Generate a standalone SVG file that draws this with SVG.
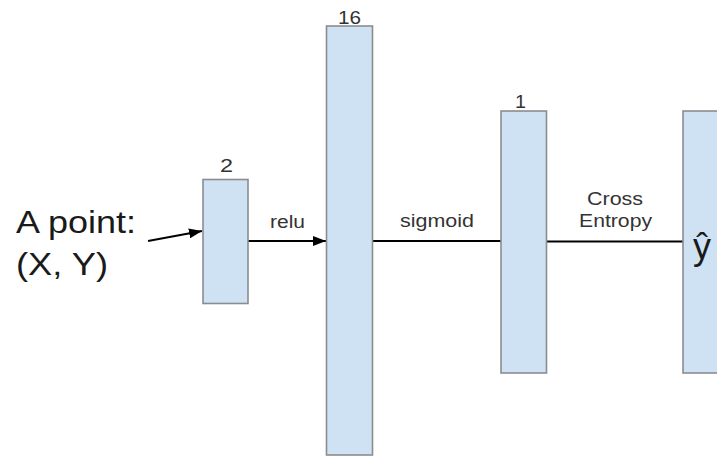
<svg xmlns="http://www.w3.org/2000/svg" width="717" height="457" viewBox="0 0 717 457">
<style>
.box{fill:#cfe2f3;stroke:#8a8d90;stroke-width:1.6}
.lbl{font-family:"Liberation Sans",Arial,sans-serif;font-size:17.5px;fill:#333}
.big{font-family:"Liberation Sans",Arial,sans-serif;font-size:32px;fill:#1a1a1a}
.conn{stroke:#000;stroke-width:2;fill:none}
</style>
<defs>
<marker id="ah" markerUnits="userSpaceOnUse" markerWidth="14" markerHeight="10" refX="13" refY="5" orient="auto">
<path d="M0,0 L13,5 L0,10 z" fill="#000"/>
</marker>
</defs>
<g id="connectors">
<line class="conn" x1="148" y1="241" x2="202" y2="231" marker-end="url(#ah)"/>
<line class="conn" x1="248" y1="241" x2="326" y2="241" marker-end="url(#ah)"/>
<line class="conn" x1="373" y1="241" x2="501" y2="241"/>
<line class="conn" x1="547" y1="241.5" x2="683" y2="241.5"/>
<text class="lbl" x="270" y="228" textLength="35" lengthAdjust="spacingAndGlyphs">relu</text>
<text class="lbl" x="400" y="227" textLength="74" lengthAdjust="spacingAndGlyphs">sigmoid</text>
<text class="lbl" x="587" y="205" textLength="56" lengthAdjust="spacingAndGlyphs">Cross</text>
<text class="lbl" x="579" y="227" textLength="73" lengthAdjust="spacingAndGlyphs">Entropy</text>
</g>
<g id="input">
<text class="big" x="16" y="233" textLength="120" lengthAdjust="spacingAndGlyphs">A point:</text>
<text class="big" x="16" y="275" textLength="92" lengthAdjust="spacingAndGlyphs">(X, Y)</text>
</g>
<g id="layer2">
<rect class="box" x="203" y="179.5" width="45" height="124"/>
<text class="lbl" x="220" y="172" textLength="13" lengthAdjust="spacingAndGlyphs">2</text>
</g>
<g id="layer16">
<rect class="box" x="326.5" y="26" width="46" height="429"/>
<text class="lbl" x="338" y="24" textLength="23" lengthAdjust="spacingAndGlyphs">16</text>
</g>
<g id="layer1">
<rect class="box" x="501" y="111" width="45.5" height="262"/>
<text class="lbl" x="515" y="108" textLength="11" lengthAdjust="spacingAndGlyphs">1</text>
</g>
<g id="output">
<rect class="box" x="683" y="111" width="40" height="262"/>
<text class="big" x="693" y="259" style="font-size:36px">ŷ</text>
</g>
</svg>
